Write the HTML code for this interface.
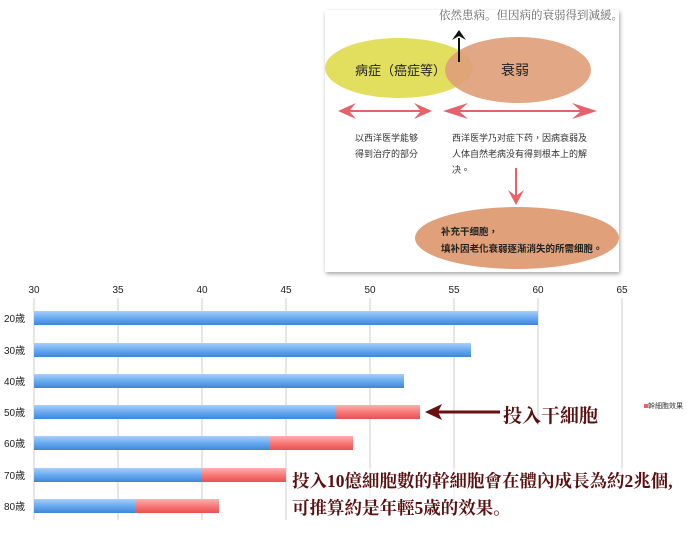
<!DOCTYPE html>
<html><head><meta charset="utf-8"><style>
body{margin:0;width:700px;height:534px;background:#fff;overflow:hidden;position:relative;font-family:"Liberation Sans","Noto Sans CJK TC",sans-serif}
.a{position:absolute;white-space:nowrap}
</style></head><body>
<div class="a" style="left:325px;top:10px;width:294px;height:262px;background:#fff;box-shadow:1px 2px 4px rgba(0,0,0,0.35)"></div>
<svg class="a" style="left:0;top:0" width="700" height="534">
<defs>
<linearGradient id="b" x1="0" y1="0" x2="0" y2="1"><stop offset="0" stop-color="#a8d0f8"/><stop offset="0.5" stop-color="#6aaaf0"/><stop offset="1" stop-color="#3d86d8"/></linearGradient>
<linearGradient id="r" x1="0" y1="0" x2="0" y2="1"><stop offset="0" stop-color="#ffb0b0"/><stop offset="0.5" stop-color="#f87a7a"/><stop offset="1" stop-color="#e85050"/></linearGradient>
</defs>
<ellipse cx="399" cy="68" rx="74" ry="30" fill="#e2df5e"/>
<ellipse cx="518" cy="70" rx="73" ry="33" fill="#e0a07a" opacity="0.92"/>
<ellipse cx="517" cy="238" rx="102" ry="31" fill="#e0a07a"/>
<line x1="459" y1="62" x2="459" y2="38" stroke="#111" stroke-width="2"/>
<polygon points="452,40 459,30 466,40 459,36" fill="#111"/>
<g fill="#e8606a">
<polygon points="338,111 356,103 350,110 420,110 414,103 432,111 414,119 420,112 350,112 356,119"/>
<polygon points="443,111 468,103 460,110 580,110 572,103 597,111 572,119 580,112 460,112 468,119"/>
<rect x="515" y="168" width="2" height="28"/>
<polygon points="508,190 516,205 524,190 516,196"/>
</g>
<g stroke="#ccc" stroke-width="1">
<line x1="118" y1="298" x2="118" y2="520"/><line x1="202" y1="298" x2="202" y2="520"/>
<line x1="286" y1="298" x2="286" y2="520"/><line x1="370" y1="298" x2="370" y2="520"/>
<line x1="454" y1="298" x2="454" y2="520"/><line x1="538" y1="298" x2="538" y2="425"/>
<line x1="622" y1="298" x2="622" y2="480"/>
<line x1="34" y1="298" x2="34" y2="520"/>
</g>
<g>
<rect x="34" y="311" width="504" height="14" fill="url(#b)"/>
<rect x="34" y="343" width="437" height="14" fill="url(#b)"/>
<rect x="34" y="374" width="370" height="14" fill="url(#b)"/>
<rect x="34" y="405" width="302" height="14" fill="url(#b)"/><rect x="336" y="405" width="84" height="14" fill="url(#r)"/>
<rect x="34" y="436" width="235" height="14" fill="url(#b)"/><rect x="269" y="436" width="84" height="14" fill="url(#r)"/>
<rect x="34" y="468" width="168" height="14" fill="url(#b)"/><rect x="202" y="468" width="84" height="14" fill="url(#r)"/>
<rect x="34" y="499" width="101" height="14" fill="url(#b)"/><rect x="135" y="499" width="84" height="14" fill="url(#r)"/>
</g>
<line x1="438" y1="412" x2="500" y2="412" stroke="#6a1010" stroke-width="3"/>
<polygon points="425,412 442,404 438,412 442,420" fill="#6a1010"/>
<rect x="644" y="404" width="4" height="4" fill="#f06060"/>
<g font-size="10" fill="#222" text-anchor="middle" font-family="Liberation Sans,sans-serif">
<text x="34" y="293">30</text><text x="118" y="293">35</text><text x="202" y="293">40</text><text x="286" y="293">45</text><text x="370" y="293">50</text><text x="454" y="293">55</text><text x="538" y="293">60</text><text x="622" y="293">65</text>
</g>
<g font-size="10" fill="#222" font-family="Liberation Sans,Noto Sans CJK TC,sans-serif">
<text x="4" y="322">20歳</text><text x="4" y="354">30歳</text><text x="4" y="385">40歳</text><text x="4" y="416">50歳</text><text x="4" y="447">60歳</text><text x="4" y="479">70歳</text><text x="4" y="510">80歳</text>
</g>
</svg>
<div class="a" style="left:439px;top:7px;font-size:11.5px;color:#666;font-family:'Liberation Serif','Noto Serif CJK SC',serif">依然患病。但因病的衰弱得到減緩。</div>
<div class="a" style="left:355px;top:60px;font-size:13px;color:#222">病症（癌症等）</div>
<div class="a" style="left:501px;top:60px;font-size:14px;color:#222">衰弱</div>
<div class="a" style="left:355px;top:130px;font-size:9px;line-height:16px;color:#333">以西洋医学能够<br>得到治疗的部分</div>
<div class="a" style="left:452px;top:130px;font-size:9px;line-height:16px;color:#333">西洋医学乃对症下药，因病衰弱及<br>人体自然老病没有得到根本上的解<br>决。</div>
<div class="a" style="left:441px;top:224px;font-size:9.5px;line-height:17px;color:#222;font-weight:bold">补充干细胞，<br>填补因老化衰弱逐渐消失的所需细胞。</div>
<div class="a" style="left:648px;top:401px;font-size:7px;color:#333">幹細胞效果</div>
<div class="a" style="left:503px;top:401px;font-size:19px;color:#5a1010;font-family:'Liberation Serif','Noto Serif CJK SC',serif;font-weight:bold">投入干細胞</div>
<div class="a" style="left:292px;top:468px;font-size:17.5px;line-height:27px;color:#5a1010;font-family:'Liberation Serif','Noto Serif CJK SC',serif;font-weight:bold;background:rgba(255,255,255,0.6)">投入10億細胞數的幹細胞會在體內成長為約2兆個,<br>可推算約是年輕5歳的效果。</div>
</body></html>
